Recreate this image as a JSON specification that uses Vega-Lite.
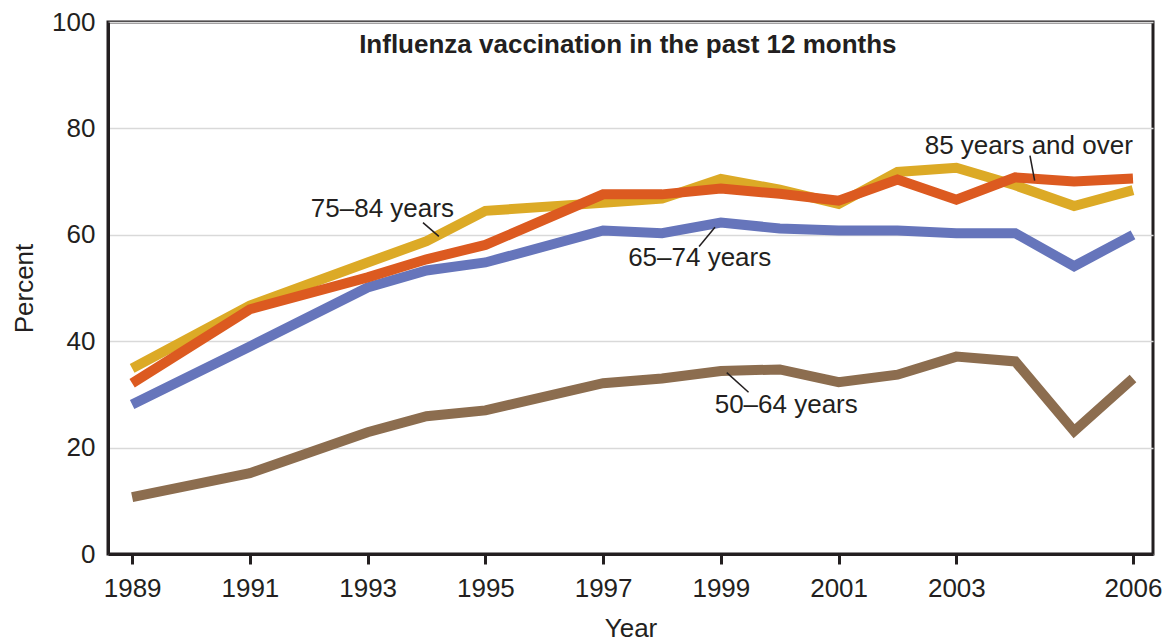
{
  "$schema": "https://vega.github.io/schema/vega-lite/v6.json",
  "autosize": {"type": "none"},
  "width": 1045,
  "height": 532,
  "padding": {"left": 108, "top": 22, "right": 19, "bottom": 88},
  "background": "white",
  "config": {
    "font": "Liberation Sans",
    "view": {"stroke": "#231f20", "strokeWidth": 3},
    "axis": {"labelFont": "Liberation Sans", "titleFont": "Liberation Sans", "labelColor": "#231f20", "titleColor": "#231f20", "titleFontWeight": "normal"}
  },
  "datasets": {
    "series": [
      {"year": 1989, "group": "50–64 years", "pct": 10.7},
      {"year": 1991, "group": "50–64 years", "pct": 15.2},
      {"year": 1993, "group": "50–64 years", "pct": 22.9},
      {"year": 1994, "group": "50–64 years", "pct": 25.9},
      {"year": 1995, "group": "50–64 years", "pct": 27.0},
      {"year": 1997, "group": "50–64 years", "pct": 32.1},
      {"year": 1998, "group": "50–64 years", "pct": 33.0},
      {"year": 1999, "group": "50–64 years", "pct": 34.4},
      {"year": 2000, "group": "50–64 years", "pct": 34.7},
      {"year": 2001, "group": "50–64 years", "pct": 32.3},
      {"year": 2002, "group": "50–64 years", "pct": 33.7},
      {"year": 2003, "group": "50–64 years", "pct": 37.1},
      {"year": 2004, "group": "50–64 years", "pct": 36.2},
      {"year": 2005, "group": "50–64 years", "pct": 23.1},
      {"year": 2006, "group": "50–64 years", "pct": 33.0},
      {"year": 1989, "group": "65–74 years", "pct": 28.1},
      {"year": 1991, "group": "65–74 years", "pct": 39.0},
      {"year": 1993, "group": "65–74 years", "pct": 50.1},
      {"year": 1994, "group": "65–74 years", "pct": 53.3},
      {"year": 1995, "group": "65–74 years", "pct": 54.8},
      {"year": 1997, "group": "65–74 years", "pct": 60.8},
      {"year": 1998, "group": "65–74 years", "pct": 60.3},
      {"year": 1999, "group": "65–74 years", "pct": 62.3},
      {"year": 2000, "group": "65–74 years", "pct": 61.2},
      {"year": 2001, "group": "65–74 years", "pct": 60.8},
      {"year": 2002, "group": "65–74 years", "pct": 60.8},
      {"year": 2003, "group": "65–74 years", "pct": 60.3},
      {"year": 2004, "group": "65–74 years", "pct": 60.3},
      {"year": 2005, "group": "65–74 years", "pct": 54.1},
      {"year": 2006, "group": "65–74 years", "pct": 60.0},
      {"year": 1989, "group": "75–84 years", "pct": 34.9},
      {"year": 1991, "group": "75–84 years", "pct": 46.7},
      {"year": 1993, "group": "75–84 years", "pct": 54.8},
      {"year": 1994, "group": "75–84 years", "pct": 58.8},
      {"year": 1995, "group": "75–84 years", "pct": 64.5},
      {"year": 1997, "group": "75–84 years", "pct": 66.0},
      {"year": 1998, "group": "75–84 years", "pct": 66.8},
      {"year": 1999, "group": "75–84 years", "pct": 70.5},
      {"year": 2000, "group": "75–84 years", "pct": 68.5},
      {"year": 2001, "group": "75–84 years", "pct": 65.8},
      {"year": 2002, "group": "75–84 years", "pct": 71.8},
      {"year": 2003, "group": "75–84 years", "pct": 72.6},
      {"year": 2004, "group": "75–84 years", "pct": 69.3},
      {"year": 2005, "group": "75–84 years", "pct": 65.4},
      {"year": 2006, "group": "75–84 years", "pct": 68.4},
      {"year": 1989, "group": "85 years and over", "pct": 32.1},
      {"year": 1991, "group": "85 years and over", "pct": 46.0},
      {"year": 1993, "group": "85 years and over", "pct": 52.0},
      {"year": 1994, "group": "85 years and over", "pct": 55.4},
      {"year": 1995, "group": "85 years and over", "pct": 58.1},
      {"year": 1997, "group": "85 years and over", "pct": 67.6},
      {"year": 1998, "group": "85 years and over", "pct": 67.6},
      {"year": 1999, "group": "85 years and over", "pct": 68.7},
      {"year": 2000, "group": "85 years and over", "pct": 67.7},
      {"year": 2001, "group": "85 years and over", "pct": 66.4},
      {"year": 2002, "group": "85 years and over", "pct": 70.4},
      {"year": 2003, "group": "85 years and over", "pct": 66.6},
      {"year": 2004, "group": "85 years and over", "pct": 70.8},
      {"year": 2005, "group": "85 years and over", "pct": 70.0},
      {"year": 2006, "group": "85 years and over", "pct": 70.6}
    ],
    "labels": [
      {"label": "75–84 years", "x": 1993.25, "y": 64.9},
      {"label": "65–74 years", "x": 1998.64, "y": 55.7},
      {"label": "85 years and over", "x": 2004.23, "y": 76.7},
      {"label": "50–64 years", "x": 2000.11, "y": 28.0}
    ],
    "leaders": [
      {"x": 1993.94, "y": 62.3, "x2": 1994.21, "y2": 59.7},
      {"x": 1998.63, "y": 57.8, "x2": 1998.9, "y2": 61.4},
      {"x": 2004.25, "y": 74.9, "x2": 2004.33, "y2": 70.2},
      {"x": 1999.1, "y": 34.1, "x2": 1999.47, "y2": 30.4}
    ],
    "title": [
      {"label": "Influenza vaccination in the past 12 months", "x": 1997.42, "y": 95.6}
    ]
  },
  "layer": [
    {
      "data": {"name": "series"},
      "mark": {"type": "line", "strokeWidth": 10, "strokeCap": "butt", "strokeJoin": "miter"},
      "encoding": {
        "x": {
          "field": "year", "type": "quantitative",
          "scale": {"domain": [1988.59, 2006.34], "nice": false, "zero": false},
          "axis": {
            "title": "Year", "titleFontSize": 26, "titlePadding": 14,
            "values": [1989, 1991, 1993, 1995, 1997, 1999, 2001, 2003, 2006],
            "format": "d", "labelFontSize": 26, "labelPadding": 11,
            "tickSize": 10, "tickWidth": 3, "tickColor": "#231f20",
            "domain": true, "domainColor": "#231f20", "domainWidth": 3, "grid": false
          }
        },
        "y": {
          "field": "pct", "type": "quantitative",
          "scale": {"domain": [0, 100], "nice": false},
          "axis": {
            "title": "Percent", "titleFontSize": 26, "titlePadding": 14,
            "values": [0, 20, 40, 60, 80, 100],
            "labelFontSize": 26, "labelPadding": 13, "ticks": false,
            "domain": true, "domainColor": "#231f20", "domainWidth": 3,
            "grid": true, "gridColor": "#d9d9d9", "gridWidth": 1.5
          }
        },
        "color": {
          "field": "group", "type": "nominal",
          "scale": {
            "domain": ["50–64 years", "65–74 years", "75–84 years", "85 years and over"],
            "range": ["#8c6d4f", "#6675bb", "#dcaa26", "#dc5a20"]
          },
          "legend": null
        }
      }
    },
    {
      "data": {"name": "leaders"},
      "mark": {"type": "rule", "color": "#231f20", "strokeWidth": 1.5},
      "encoding": {
        "x": {"field": "x", "type": "quantitative"},
        "y": {"field": "y", "type": "quantitative"},
        "x2": {"field": "x2"},
        "y2": {"field": "y2"}
      }
    },
    {
      "data": {"name": "labels"},
      "mark": {"type": "text", "fontSize": 26, "color": "#231f20", "align": "center", "baseline": "middle", "font": "Liberation Sans"},
      "encoding": {
        "x": {"field": "x", "type": "quantitative"},
        "y": {"field": "y", "type": "quantitative"},
        "text": {"field": "label"}
      }
    },
    {
      "data": {"name": "title"},
      "mark": {"type": "text", "fontSize": 26, "fontWeight": "bold", "color": "#231f20", "align": "center", "baseline": "middle", "font": "Liberation Sans"},
      "encoding": {
        "x": {"field": "x", "type": "quantitative"},
        "y": {"field": "y", "type": "quantitative"},
        "text": {"field": "label"}
      }
    }
  ]
}
